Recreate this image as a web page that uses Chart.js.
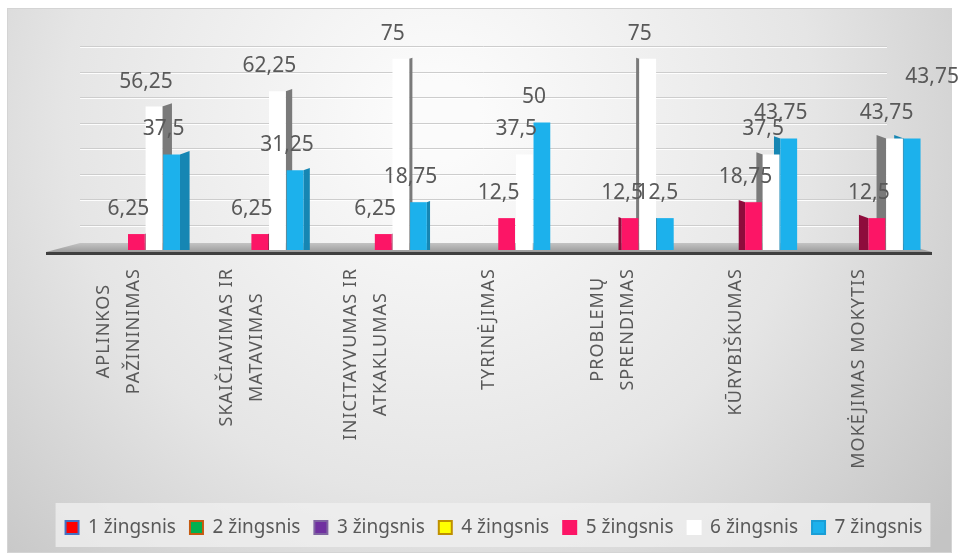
<!DOCTYPE html>
<html>
<head>
<meta charset="utf-8">
<script src="https://cdn.jsdelivr.net/npm/chart.js@4.4.1/dist/chart.umd.min.js"></script>
<style>
  html, body { margin: 0; padding: 0; background: #ffffff; }
  #wrap { width: 964px; height: 559px; }
</style>
</head>
<body>
<div id="wrap"><canvas id="chart" width="964" height="559"></canvas></div>
<script>
const categories = [
  ['APLINKOS', 'PAŽININIMAS'],
  ['SKAIČIAVIMAS IR', 'MATAVIMAS'],
  ['INICITAYVUMAS IR', 'ATKAKLUMAS'],
  'TYRINĖJIMAS',
  ['PROBLEMŲ', 'SPRENDIMAS'],
  'KŪRYBIŠKUMAS',
  'MOKĖJIMAS MOKYTIS',
];
const seriesNames = ['1 žingsnis', '2 žingsnis', '3 žingsnis', '4 žingsnis', '5 žingsnis', '6 žingsnis', '7 žingsnis'];

// steps 1-4 have no values in the source chart
const step1 = [null, null, null, null, null, null, null];
const step2 = [null, null, null, null, null, null, null];
const step3 = [null, null, null, null, null, null, null];
const step4 = [null, null, null, null, null, null, null];
const step5 = [6.25, 6.25, 6.25, 12.5, 12.5, 18.75, 12.5];
const step6 = [56.25, 62.25, 75, 37.5, 75, 37.5, 43.75];
const step7 = [37.5, 31.25, 18.75, 50, 12.5, 43.75, 43.75];

const yMin = 0;
const yMax = 80;
const yStep = 10;

const fillColors = ['#ff0000', '#00b050', '#7030a0', '#ffff00', '#fc1566', '#ffffff', '#1cb1ec'];
const edgeColors = ['#4472c4', '#c55a11', '#8064a2', '#bf9000', '#fc1566', '#ffffff', '#1a9ed6'];
const sideColors = ['#a00000', '#007a38', '#4b1f6e', '#b0b000', '#8e0c3c', '#7a7a7a', '#1686b3'];
const textColor = '#595959';

const allSteps = [step1, step2, step3, step4, step5, step6, step7];

const fmt = v => String(v).replace('.', ',');

// frame, gradient background and legend panel
const backdrop = {
  id: 'backdrop',
  beforeDraw(chart) {
    const { ctx, width, height } = chart;
    ctx.save();
    ctx.fillStyle = '#ffffff';
    ctx.fillRect(0, 0, width, height);
    const g = ctx.createRadialGradient(440, 120, 40, 440, 120, 650);
    g.addColorStop(0, '#fbfbfb');
    g.addColorStop(0.55, '#e5e5e5');
    g.addColorStop(1, '#c4c4c4');
    ctx.fillStyle = g;
    ctx.fillRect(7, 8, width - 19, height - 14);
    ctx.strokeStyle = '#d4d4d4';
    ctx.lineWidth = 1;
    ctx.strokeRect(7.5, 8.5, width - 20, height - 15);

    const legend = chart.legend;
    if (legend && legend.legendHitBoxes.length) {
      const boxes = legend.legendHitBoxes;
      const left = Math.min(...boxes.map(b => b.left)) - 10;
      const right = Math.max(...boxes.map(b => b.left + b.width)) + 8;
      ctx.fillStyle = 'rgba(240,240,240,0.75)';
      ctx.fillRect(left, legend.top - 1, right - left, legend.bottom - legend.top + 1);
    }
    ctx.restore();
  },
};

// back-wall grid, grey floor and the 3d side faces of the bars
const floorAndSides = {
  id: 'floorAndSides',
  beforeDatasetsDraw(chart) {
    const { ctx, chartArea: a } = chart;
    const y = chart.scales.y;
    ctx.save();
    y.ticks.forEach(t => {
      const py = Math.round(y.getPixelForValue(t.value)) + 0.5;
      ctx.strokeStyle = '#cdcdcd';
      ctx.lineWidth = 1;
      ctx.beginPath();
      ctx.moveTo(a.left + 23, py);
      ctx.lineTo(a.right - 34, py);
      ctx.stroke();
      ctx.strokeStyle = 'rgba(255,255,255,0.9)';
      ctx.beginPath();
      ctx.moveTo(a.left + 23, py + 1);
      ctx.lineTo(a.right - 34, py + 1);
      ctx.stroke();
    });

    const fg = ctx.createLinearGradient(0, a.bottom - 8, 0, a.bottom + 2);
    fg.addColorStop(0, '#c8c8c8');
    fg.addColorStop(1, '#9c9c9c');
    ctx.fillStyle = fg;
    ctx.beginPath();
    ctx.moveTo(a.left + 23, a.bottom - 7);
    ctx.lineTo(a.right - 21, a.bottom - 7);
    ctx.lineTo(a.right + 11, a.bottom + 2);
    ctx.lineTo(a.left - 11, a.bottom + 2);
    ctx.closePath();
    ctx.fill();
    ctx.fillStyle = '#3f3f3f';
    ctx.fillRect(a.left - 11, a.bottom + 2, a.width + 22, 3);

    const mid = (categories.length - 1) / 2;
    chart.data.datasets.forEach((ds, di) => {
      const meta = chart.getDatasetMeta(di);
      meta.data.forEach((bar, i) => {
        if (ds.data[i] == null) return;
        const { x, y: top, base, width } = bar.getProps(['x', 'y', 'base', 'width'], true);
        const d = i - mid;
        if (d === 0) return;
        const fw = Math.abs(d) * 3.2;
        const edge = d < 0 ? x + width / 2 : x - width / 2;
        const out = d < 0 ? edge + fw : edge - fw;
        ctx.fillStyle = sideColors[di];
        ctx.beginPath();
        ctx.moveTo(edge, top);
        ctx.lineTo(out, top - fw * 0.35);
        ctx.lineTo(out, base);
        ctx.lineTo(edge, base);
        ctx.closePath();
        ctx.fill();
      });
    });
    ctx.restore();
  },
};

// value labels above the bars, nudged when two land on the same spot
const valueLabels = {
  id: 'valueLabels',
  afterDatasetsDraw(chart) {
    const { ctx } = chart;
    ctx.save();
    ctx.font = '21px "Noto Sans", sans-serif';
    ctx.fillStyle = textColor;
    ctx.textAlign = 'center';
    ctx.textBaseline = 'middle';
    const placed = [];
    chart.data.datasets.forEach((ds, di) => {
      const meta = chart.getDatasetMeta(di);
      meta.data.forEach((bar, i) => {
        const v = ds.data[i];
        if (v == null) return;
        const text = fmt(v);
        const w = ctx.measureText(text).width;
        const h = 20;
        let cx = bar.x - 8;
        let cy = bar.y - 25;
        const hit = placed.some(p => {
          const ox = Math.min(cx + w / 2, p.x + p.w / 2) - Math.max(cx - w / 2, p.x - p.w / 2);
          const oy = Math.min(cy + h / 2, p.y + h / 2) - Math.max(cy - h / 2, p.y - h / 2);
          return ox > 0 && oy > 0 && ox * oy > 0.5 * w * h;
        });
        if (hit) { cx += 28; cy -= 36; }
        placed.push({ x: cx, y: cy, w });
        ctx.fillText(text, cx, cy);
      });
    });
    ctx.restore();
  },
};

// rotated category names, lines centred on the tick like the original
const categoryLabels = {
  id: 'categoryLabels',
  afterDraw(chart) {
    const { ctx, chartArea: a } = chart;
    const xs = chart.scales.x;
    ctx.save();
    ctx.font = '18px "Noto Sans", sans-serif';
    ctx.letterSpacing = '1px';
    ctx.fillStyle = textColor;
    ctx.textAlign = 'center';
    ctx.textBaseline = 'middle';
    categories.forEach((label, i) => {
      const lines = [].concat(label);
      const longest = Math.max(...lines.map(l => ctx.measureText(l).width));
      const px = xs.getPixelForTick(i);
      const along = a.bottom + 18 + longest / 2;
      lines.forEach((line, j) => {
        ctx.save();
        ctx.translate(px + (j - (lines.length - 1) / 2) * 30, along);
        ctx.rotate(-Math.PI / 2);
        ctx.fillText(line, 0, 0);
        ctx.restore();
      });
    });
    ctx.restore();
  },
};

const datasets = allSteps.map((values, i) => ({
  label: seriesNames[i],
  data: values,
  backgroundColor: fillColors[i],
  borderWidth: 0,
  barPercentage: 0.95,
  categoryPercentage: 1,
}));

new Chart(document.getElementById('chart'), {
  type: 'bar',
  data: { labels: categories, datasets },
  options: {
    responsive: false,
    animation: false,
    devicePixelRatio: 1,
    events: [],
    layout: { padding: { left: 24, right: 0, top: 46, bottom: 12 } },
    scales: {
      x: {
        grid: { display: false },
        border: { display: false },
        ticks: { display: false, autoSkip: false },
        afterFit(scale) { scale.height = 254; },
      },
      y: {
        min: yMin,
        max: yMax,
        ticks: { display: false, stepSize: yStep },
        grid: { display: false },
        border: { display: false },
        afterFit(scale) { scale.width = 33; },
      },
      yRight: {
        type: 'linear',
        position: 'right',
        ticks: { display: false },
        grid: { display: false },
        border: { display: false },
        afterFit(scale) { scale.width = 43; },
      },
    },
    plugins: {
      tooltip: { enabled: false },
      legend: {
        position: 'bottom',
        labels: {
          color: textColor,
          font: { family: '"Noto Sans", sans-serif', size: 19 },
          boxWidth: 13,
          boxHeight: 13,
          padding: 14,
          generateLabels(chart) {
            const items = Chart.defaults.plugins.legend.labels.generateLabels(chart);
            items.forEach((it, i) => {
              it.fillStyle = fillColors[i];
              it.strokeStyle = edgeColors[i];
              it.lineWidth = 2;
            });
            return items;
          },
        },
      },
    },
  },
  plugins: [backdrop, floorAndSides, valueLabels, categoryLabels],
});
</script>
</body>
</html>
